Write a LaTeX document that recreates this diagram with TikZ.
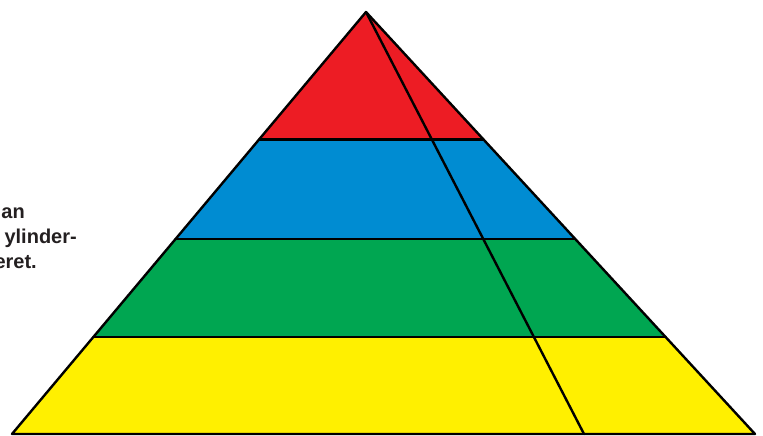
\documentclass[tikz,border=0pt]{standalone}
\usepackage{fontspec}
\setmainfont{Liberation Sans}
\usetikzlibrary{calc}
\definecolor{pyrred}{RGB}{237,28,36}
\definecolor{pyrblue}{RGB}{0,140,210}
\definecolor{pyrgreen}{RGB}{0,166,81}
\definecolor{pyryellow}{RGB}{255,240,0}
\definecolor{textgrey}{RGB}{35,31,32}
\begin{document}
\begin{tikzpicture}[
    x=1pt, y=1pt,
    edge/.style={draw=black, line width=2.4pt, line join=round, line cap=round},
    caption/.style={anchor=base east, inner sep=0pt, text=textgrey,
        font=\bfseries\fontsize{20}{24}\selectfont}
]
    \useasboundingbox (0,0) rectangle (763,436);
    \clip (0,0) rectangle (763,436);

    \coordinate (top) at (366,424);
    \coordinate (bl) at (12,2);
    \coordinate (br) at (755,2);
    \coordinate (bm) at (584,2);

    \foreach \t/\n in {0.302/1, 0.538/2, 0.770/3} {
        \coordinate (l\n) at ($(top)!\t!(bl)$);
        \coordinate (r\n) at ($(top)!\t!(br)$);
    }

    % bands
    \fill[pyrred] (top) -- (l1) -- (r1) -- cycle;
    \fill[pyrblue] (l1) -- (l2) -- (r2) -- (r1) -- cycle;
    \fill[pyrgreen] (l2) -- (l3) -- (r3) -- (r2) -- cycle;
    \fill[pyryellow] (l3) -- (bl) -- (br) -- (r3) -- cycle;

    % outline
    \draw[edge] (top) -- (bl) -- (br) -- cycle;
    \draw[edge] (l1) -- (r1);
    \draw[edge] (l2) -- (r2);
    \draw[edge] (l3) -- (r3);
    \draw[edge] (top) -- (bm);

    \node[caption] (line1) at (25,217) {an};
    \node[caption] (line2) at (77,192) {ylinder-};
    \node[caption] (line3) at (37,167) {eret.};
\end{tikzpicture}
\end{document}
